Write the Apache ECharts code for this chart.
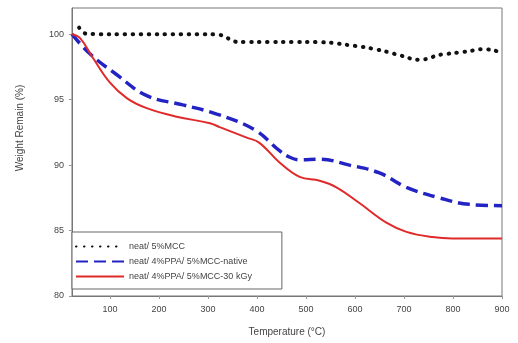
<!DOCTYPE html>
<html><head><meta charset="utf-8">
<script src="https://cdn.jsdelivr.net/npm/echarts@6/dist/echarts.min.js"></script>
<style>html,body{margin:0;padding:0;background:#fff}#c{width:518px;height:343px}</style>
</head><body><div id="c"></div>
<script>
var xTicks = [100,200,300,400,500,600,700,800,900];
var yTicks = [80,85,90,95,100];
var names = ['neat/ 5%MCC','neat/ 4%PPA/ 5%MCC-native','neat/ 4%PPA/ 5%MCC-30 kGy'];
var neatMCC = [[37,100.5],[50,100.05],[100,100],[200,100],[300,100],[330,99.9],[345,99.6],[360,99.4],[400,99.4],[450,99.4],[500,99.4],[550,99.35],[580,99.2],[620,99.0],[660,98.7],[700,98.3],[725,98.05],[745,98.1],[770,98.4],[800,98.55],[833,98.7],[855,98.85],[880,98.8],[900,98.55]];
var nativeS = [[22.5,100],[59,98.5],[114,96.9],[175,95.3],[249,94.6],[318,93.9],[395,92.7],[446,91.1],[467,90.6],[487,90.4],[528,90.45],[589,90.0],[650,89.4],[705,88.3],[772,87.5],[833,87.0],[900,86.9]];
var irr = [[22.5,100],[39,99.7],[65,98.2],[100,96.3],[135,95.1],[175,94.35],[236,93.7],[304,93.2],[324,92.9],[379,92.1],[405,91.7],[446,90.2],[487,89.1],[528,88.8],[562,88.3],[609,87.1],[664,85.6],[705,84.9],[758,84.5],[799,84.4],[900,84.4]];
var txt = {fontFamily:'Liberation Sans, Arial, sans-serif', fontSize:9, color:'#444'};
var chart = echarts.init(document.getElementById('c'));
chart.setOption({
  animation:false,
  grid:{left:72,right:16,top:8,bottom:47,show:true,borderColor:'#777',borderWidth:1},
  graphic:[{type:'text',x:20,y:128,rotation:Math.PI/2,
    style:{text:'Weight Remain (%)',fill:'#444',font:'10px Liberation Sans, Arial, sans-serif',align:'center',verticalAlign:'middle'}}],
  xAxis:{type:'value',min:22.5,max:900,name:'Temperature (°C)',nameLocation:'middle',nameGap:31,
    nameTextStyle:Object.assign({},txt,{fontSize:10}),
    axisLine:{show:true,lineStyle:{color:'#777'}},splitLine:{show:false},
    axisTick:{show:true,length:3,customValues:xTicks,lineStyle:{color:'#999'}},
    axisLabel:Object.assign({customValues:xTicks,margin:9},txt)},
  yAxis:{type:'value',min:80,max:102,
    axisLine:{show:true,lineStyle:{color:'#777'}},splitLine:{show:false},
    axisTick:{show:true,length:3,customValues:yTicks,lineStyle:{color:'#999'}},
    axisLabel:Object.assign({customValues:yTicks,margin:8},txt)},
  legend:{orient:'vertical',left:72,top:232,itemWidth:48,itemHeight:10,itemGap:6,
    padding:[10,30,8,3],backgroundColor:'#fff',borderColor:'#666',borderWidth:1,
    itemStyle:{opacity:0},
    textStyle:Object.assign({},txt,{fontSize:9}),data:names},
  series:[
    {name:names[0],type:'line',data:neatMCC,showSymbol:false,symbol:'none',smooth:0.3,
      lineStyle:{color:'#111',width:4,type:[0.5,7.5],cap:'round'},itemStyle:{color:'#111'}},
    {name:names[1],type:'line',data:nativeS,showSymbol:false,symbol:'none',smooth:0.4,
      lineStyle:{color:'#2323c4',width:3.5,type:[12,6]},itemStyle:{color:'#2323c4'}},
    {name:names[2],type:'line',data:irr,showSymbol:false,symbol:'none',smooth:0.4,
      lineStyle:{color:'#e02a2a',width:2},itemStyle:{color:'#e02a2a'}}
  ]
});
</script></body></html>
